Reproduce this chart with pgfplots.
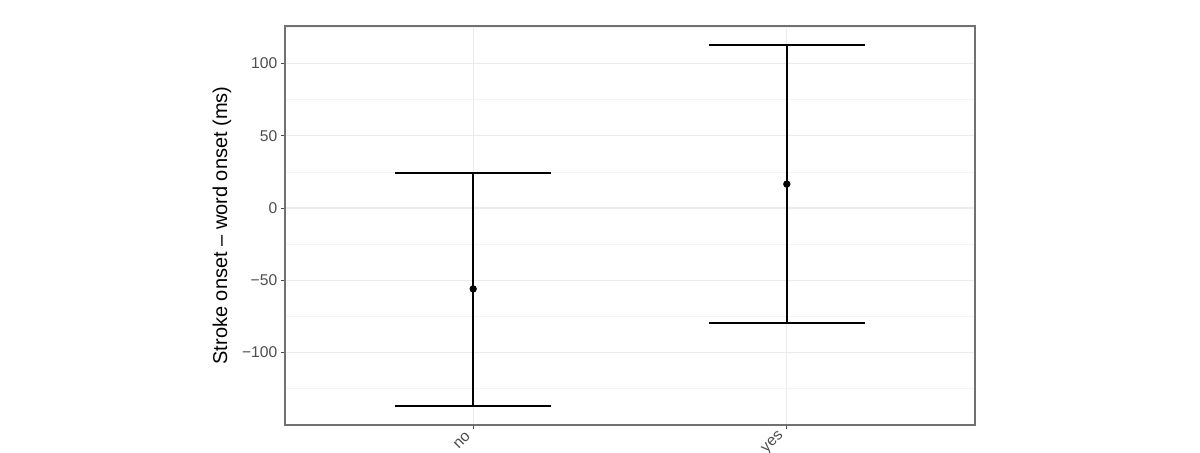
\documentclass[border=0pt]{standalone}
\usepackage{pgfplots}
\pgfplotsset{compat=1.18}
\usepackage{fontspec}
\setmainfont{Liberation Sans}
\definecolor{grey30}{HTML}{4D4D4D}
\definecolor{grey92}{HTML}{EBEBEB}
\begin{document}
\begin{tikzpicture}
 \begin{axis}[
  at={(0,0)}, anchor=south west,
  scale only axis, width=345pt, height=199.5pt,
  xmin=0.4, xmax=2.6, ymin=-150.2, ymax=126,
  xtick={1,2}, xticklabels={no,yes},
  ytick={-100,-50,0,50,100},
  yticklabels={−100,−50,0,50,100},
  minor ytick={-125,-75,-25,25,75,125},
  xtick pos=bottom, ytick pos=left,
  grid=both,
  major grid style={grey92, line width=0.6pt},
  minor grid style={grey92!60, line width=0.35pt},
  axis line style={grey30!80, line width=0.8pt},
  tick align=outside, major tick length=2.2pt,
  tick style={grey30, line width=0.5pt},
  minor tick length=0pt,
  ticklabel style={font=\fontsize{7.8}{9}\selectfont, text=grey30},
  yticklabel style={inner sep=1.5pt},
  xticklabel style={rotate=45, anchor=east},
  ylabel={Stroke onset -- word onset (ms)},
  ylabel style={font=\fontsize{8.8}{10}\selectfont},
  every axis y label/.style={at={(axis description cs:-0.0913,0.5)}, rotate=90, anchor=center},
 ]
  \addplot[black, line width=1pt, mark=*, mark size=1.3pt,
   only marks,
   error bars/.cd, y dir=both, y explicit,
   error mark=|, error bar style={line width=1pt},
   error mark options={mark size=39pt, line width=1pt}]
   coordinates {
    (1, -56.0) += (0, 80.2) -= (0, 81.0)
    (2, 16.6) += (0, 96.2) -= (0, 96.2)
   };
 \end{axis}
 \pgfresetboundingbox
 \path[use as bounding box] (-142.5pt,-13.5pt) rectangle (457.5pt,212.5pt);
\end{tikzpicture}
\end{document}
